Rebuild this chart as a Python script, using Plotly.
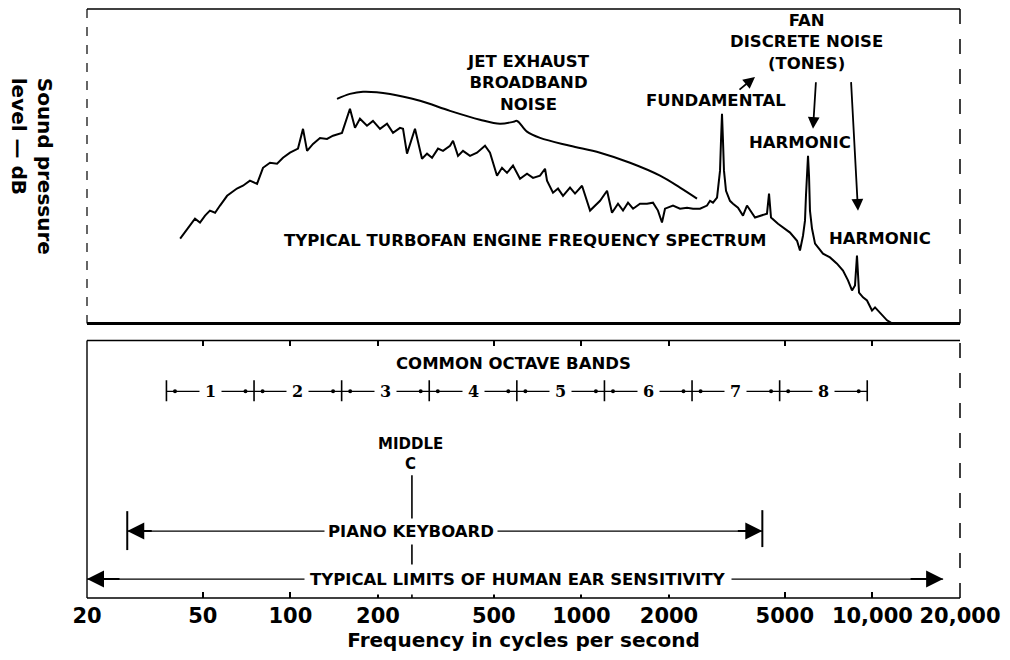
import math
import plotly.graph_objects as go

# ---------------- data ----------------
spec_freq = [41.8, 45.2, 47.0, 48.9, 50.9, 52.9, 55.1, 57.3, 60.6, 65.5, 68.7, 72.6, 76.8, 80.5,
             85.1, 90.0, 94.3, 99.7, 106.2, 110.5, 114.1, 119.6, 126.4, 133.6, 140.1, 150.4,
             160.2, 166.7, 173.4, 183.3, 192.2, 203.2, 214.8, 225.2, 238.0, 243.8, 251.6, 268.0,
             283.3, 294.8, 306.7, 321.6, 334.5, 353.6, 362.1, 376.7, 391.9, 414.2, 437.8, 466.4,
             485.2, 512.8, 533.5, 555.1, 582.1, 615.2, 650.3, 681.9, 720.8, 749.9, 761.8, 798.8,
             831.1, 864.6, 913.9, 950.8, 1005, 1071, 1114, 1159, 1225, 1274, 1336, 1390, 1446,
             1505, 1590, 1680, 1762, 1833, 1892, 1938, 2064, 2182, 2307, 2419, 2557, 2702, 2767,
             2833, 2925, 2948, 2995, 3018, 3042, 3066, 3090, 3140, 3240, 3319, 3452, 3592, 3707,
             3950, 4110, 4343, 4413, 4483, 4738, 4930, 5211, 5508, 5638, 5774, 5866, 5912, 5960,
             6008, 6056, 6102, 6200, 6352, 6764, 7150, 7557, 7924, 8244, 8511, 8714, 8851, 8996,
             9283, 9581, 9970, 10210, 10621, 11226, 11680]
spec_level = [27.0, 31.1, 33.3, 32.1, 34.3, 35.9, 35.2, 37.5, 40.6, 42.9, 43.8, 45.4, 44.4, 49.5,
              51.1, 50.8, 52.7, 54.3, 55.6, 61.9, 54.9, 57.1, 59.0, 58.7, 59.7, 60.6,
              68.3, 62.2, 65.1, 62.9, 64.4, 61.9, 63.5, 60.6, 62.2, 61.9, 54.0, 61.9,
              52.4, 54.0, 52.7, 55.6, 54.9, 56.5, 58.1, 53.3, 54.9, 53.3, 54.3, 56.5,
              54.3, 47.0, 49.5, 47.9, 50.2, 46.0, 47.6, 46.3, 47.0, 49.2, 45.4, 41.6,
              42.9, 40.6, 43.2, 41.3, 43.8, 35.9, 37.5, 39.0, 42.2, 35.2, 38.1, 35.9, 38.4,
              36.5, 38.1, 38.1, 38.4, 35.9, 32.1, 36.5, 37.5, 36.5, 36.8, 36.5, 36.5, 37.5, 39.0,
              38.4, 40.0, 42.9, 48.6, 58.1, 66.7, 58.1, 48.6, 42.2, 39.0, 38.1, 36.8, 34.3, 37.5,
              33.7, 34.3, 34.9, 41.3, 33.7, 31.7, 30.5, 28.9, 26.3, 23.2, 27.9, 32.7, 40.6, 48.6,
              53.3, 47.0, 35.9, 30.2, 25.4, 22.2, 21.0, 19.0, 16.8, 13.7, 10.5, 12.1, 21.6, 9.8,
              8.3, 7.3, 4.1, 5.1, 3.5, 1.0, 0.0]

brace_freq = [144.6, 160.2, 177.6, 220, 278.8, 353.6, 448, 525, 582, 601,
              650, 721, 914, 1159, 1469, 1863, 2182, 2496]
brace_level = [71.4, 73.0, 73.7, 73.0, 70.8, 67.6, 64.8, 63.5, 64.1, 64.4,
               61.0, 59.0, 56.5, 54.3, 51.1, 47.0, 43.2, 39.7]

octave_edges = [37.5, 75, 150, 300, 600, 1200, 2400, 4800, 9600]
octave_labels = ["1", "2", "3", "4", "5", "6", "7", "8"]
middle_c = 261.6
piano_range = [27.5, 4186]
ear_range = [20, 17500]

tick_vals = [20, 50, 100, 200, 500, 1000, 2000, 5000, 10000, 20000]
tick_text = ["20", "50", "100", "200", "500", "1000", "2000", "5000", "10,000", "20,000"]

# ---------------- layout helpers (page pixel -> paper) ----------------
OFF = 8                      # page body margin
FW, FH = 1010 - OFF, 660 - OFF
L, R, T, B = 87, 960, 8, 598  # page pixel positions of the plotting area


def PX(x):
    return (x - L) / (R - L)


def PY(y):
    return (B - y) / (B - T)


def V(y):  # bottom panel value from page pixel y
    return (B - y) / (B - 340)


FONT = "DejaVu Sans"
BLK = "black"

fig = go.Figure()

# spectrum
fig.add_trace(go.Scatter(x=spec_freq, y=spec_level, xaxis="x2", yaxis="y2", mode="lines",
                         line=dict(color=BLK, width=2), hoverinfo="skip"))
# brace
fig.add_trace(go.Scatter(x=brace_freq, y=brace_level, xaxis="x2", yaxis="y2", mode="lines",
                         line=dict(color=BLK, width=2, shape="spline"), hoverinfo="skip"))

# octave band line
y_oct = V(391)
fig.add_trace(go.Scatter(x=[octave_edges[0], octave_edges[-1]], y=[y_oct, y_oct], mode="lines",
                         line=dict(color=BLK, width=1.3), hoverinfo="skip"))
tx, ty = [], []
for e in octave_edges:
    tx += [e, e, None]
    ty += [V(380), V(401), None]
fig.add_trace(go.Scatter(x=tx, y=ty, mode="lines", line=dict(color=BLK, width=1.6), hoverinfo="skip"))
dx, dy = [], []
for a, b in zip(octave_edges[:-1], octave_edges[1:]):
    dx += [a * 1.07, b / 1.07]
    dy += [y_oct, y_oct]
fig.add_trace(go.Scatter(x=dx, y=dy, mode="markers", marker=dict(color=BLK, size=4), hoverinfo="skip"))

# middle C
fig.add_trace(go.Scatter(x=[middle_c, middle_c], y=[0, V(475)], mode="lines",
                         line=dict(color=BLK, width=1.6), hoverinfo="skip"))
# piano keyboard
y_p = V(531)
fig.add_trace(go.Scatter(x=piano_range, y=[y_p, y_p], mode="lines",
                         line=dict(color=BLK, width=1.3), hoverinfo="skip"))
fig.add_trace(go.Scatter(x=[piano_range[0], piano_range[0], None, piano_range[1], piano_range[1]],
                         y=[V(511), V(550), None, V(510), V(547)], mode="lines",
                         line=dict(color=BLK, width=2), hoverinfo="skip"))
# ear sensitivity
y_e = V(579)
fig.add_trace(go.Scatter(x=ear_range, y=[y_e, y_e], mode="lines",
                         line=dict(color=BLK, width=1.3), hoverinfo="skip"))

ann = []


def text(x, y, s, size=16.5, bg=None, pad=2, **kw):
    d = dict(x=PX(x), y=PY(y), xref="paper", yref="paper", text=s, showarrow=False,
             font=dict(family=FONT, size=size, color=BLK, weight="bold"),
             xanchor="center", yanchor="middle")
    if bg:
        d.update(bgcolor=bg, borderpad=pad)
    d.update(kw)
    ann.append(d)


text(528, 82, "JET EXHAUST<br>BROADBAND<br>NOISE")
text(716, 100, "FUNDAMENTAL")
text(806, 41, "FAN<br>DISCRETE NOISE<br>(TONES)")
text(800, 142, "HARMONIC")
text(880, 238, "HARMONIC")
text(525, 240, "TYPICAL TURBOFAN ENGINE FREQUENCY SPECTRUM")
text(513, 363, "COMMON OCTAVE BANDS")
text(410, 454, "MIDDLE<br>C", size=15)
text(411, 531, "PIANO KEYBOARD", bg="white", pad=3)
text(518, 579, "TYPICAL LIMITS OF HUMAN EAR SENSITIVITY", bg="white", pad=5)
text(32, 165, "Sound pressure<br>level — dB", size=20, textangle=90, align="left")

# octave numbers
for a, b, lab in zip(octave_edges[:-1], octave_edges[1:], octave_labels):
    ann.append(dict(x=math.log10(math.sqrt(a * b)), y=y_oct, xref="x", yref="y", text=lab,
                    showarrow=False, bgcolor="white", borderpad=5,
                    font=dict(family="DejaVu Serif", size=16, color=BLK, weight="bold")))


def arrow(hx, hy, tx_, ty_):
    ann.append(dict(x=PX(hx), y=PY(hy), xref="paper", yref="paper", ax=tx_ - hx, ay=ty_ - hy,
                    text="", showarrow=True, arrowhead=2, arrowsize=1.3, arrowwidth=1.8,
                    arrowcolor=BLK, standoff=0))


arrow(755, 76, 738, 90)
arrow(813, 128, 816, 80)
arrow(858, 210, 851, 80)

# piano / ear arrowheads (data positions)
for xv, off, yv in [(piano_range[0], 26, y_p), (piano_range[1], -26, y_p),
                    (ear_range[0], 34, y_e), (ear_range[1], -34, y_e)]:
    ann.append(dict(x=math.log10(xv), y=yv, xref="x", yref="y", ax=off, ay=0, text="",
                    showarrow=True, arrowhead=2, arrowsize=1.7, arrowwidth=2,
                    arrowcolor=BLK, standoff=0))

# frames
shapes = [
    dict(type="line", xref="paper", yref="paper", x0=0, x1=1, y0=PY(8), y1=PY(8),
         line=dict(color=BLK, width=1.5)),
    dict(type="line", xref="paper", yref="paper", x0=0, x1=0, y0=PY(8), y1=PY(323),
         line=dict(color=BLK, width=1.2, dash="dash")),
    dict(type="line", xref="paper", yref="paper", x0=1, x1=1, y0=PY(8), y1=PY(323),
         line=dict(color=BLK, width=1.5, dash="longdash")),
    dict(type="line", xref="paper", yref="paper", x0=0, x1=1, y0=PY(323), y1=PY(323),
         line=dict(color=BLK, width=3)),
    dict(type="line", xref="paper", yref="paper", x0=0, x1=1, y0=PY(340), y1=PY(340),
         line=dict(color=BLK, width=1.6)),
    dict(type="line", xref="paper", yref="paper", x0=0, x1=1, y0=0, y1=0,
         line=dict(color=BLK, width=1.6)),
    dict(type="line", xref="paper", yref="paper", x0=0, x1=0, y0=0, y1=PY(340),
         line=dict(color=BLK, width=1.4)),
    dict(type="line", xref="paper", yref="paper", x0=1, x1=1, y0=0, y1=PY(340),
         line=dict(color=BLK, width=1.5, dash="longdash")),
]

xr = [math.log10(20), math.log10(20000)]
fig.update_layout(
    width=FW, height=FH,
    margin=dict(l=L - OFF, r=1010 - R, t=T - OFF + 1, b=660 - B, autoexpand=False),
    paper_bgcolor="white", plot_bgcolor="white", showlegend=False,
    font=dict(family=FONT, color=BLK),
    xaxis=dict(type="log", range=xr, domain=[0, 1], anchor="y",
               tickvals=tick_vals, ticktext=tick_text, ticks="inside", ticklen=6, tickwidth=1.5,
               tickcolor=BLK, mirror="ticks", showline=False, showgrid=False, zeroline=False,
               tickfont=dict(family=FONT, size=21, color=BLK, weight="bold"),
               ticklabelstandoff=3, automargin=False,
               title=dict(text="Frequency in cycles per second", standoff=3,
                          font=dict(family=FONT, size=20, color=BLK, weight="bold"))),
    yaxis=dict(range=[0, 1], domain=[0, PY(340)], anchor="x", showticklabels=False,
               ticks="", showgrid=False, zeroline=False, showline=False),
    xaxis2=dict(type="log", range=xr, domain=[0, 1], anchor="y2", showticklabels=False,
                ticks="", showgrid=False, zeroline=False, showline=False),
    yaxis2=dict(range=[0, 100], domain=[PY(323), PY(8)], anchor="x2", showticklabels=False,
                ticks="", showgrid=False, zeroline=False, showline=False),
    annotations=ann, shapes=shapes,
)

fig.write_html("out.html")
